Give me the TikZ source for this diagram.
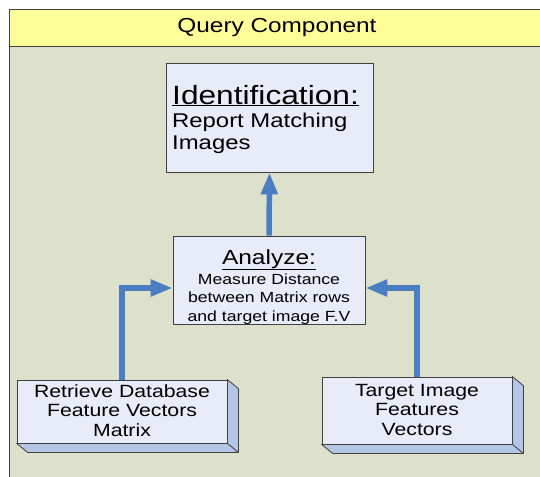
\documentclass[tikz,border=0pt]{standalone}
\usepackage{graphicx}
\usepackage{fontspec}
\setmainfont{Liberation Sans}
\usetikzlibrary{arrows.meta}
\newcommand\xwide[1]{\scalebox{1.2}[1]{#1}}
\definecolor{hdr}{HTML}{FFFF99}
\definecolor{bodyc}{HTML}{DDE1CB}
\definecolor{boxfill}{HTML}{E7ECF8}
\definecolor{depth}{HTML}{B3C6E6}
\definecolor{arrblue}{HTML}{4A7EC0}
\definecolor{framec}{HTML}{404040}
\tikzset{
  box/.style={draw=framec, fill=boxfill, line width=0.8pt, inner sep=0pt},
  txt/.style={inner sep=0pt, anchor=base},
  depthface/.style={draw=framec, fill=depth, line width=0.8pt, line join=round},
  arr/.style={draw=arrblue, line width=5.5pt, -{Triangle[width=16pt,length=22pt]}},
}
\begin{document}
\begin{tikzpicture}[x=1pt,y=-1pt]
\useasboundingbox (0,0) rectangle (540,476);
% frame
\fill[bodyc] (9,46) rectangle (560,490);
\fill[hdr] (9,9) rectangle (560,46);
\draw[framec, line width=0.8pt] (560,9) -- (9,9) -- (9,490);
\draw[framec, line width=0.8pt] (9,46) -- (560,46);
\node[inner sep=0pt] (title) at (277,28) {\xwide{\fontsize{20.3}{24}\selectfont Query Component}};
% Identification box
\node[box, minimum width=207pt, minimum height=109pt] (I) at (269.5,117.5) {};
\node[txt, anchor=base west] (It) at (172,104)
  {\xwide{\parbox[t]{162pt}{\raggedright
   {\fontsize{26.4}{30}\selectfont \underline{Identification:}\par}
   \vspace{2.5pt}
   {\fontsize{19.9}{21.5}\selectfont Report Matching\\Images\par}}}};
% Analyze box
\node[box, minimum width=192pt, minimum height=88pt] (A) at (269,280) {};
\node[txt] (At) at (269,264)
  {\xwide{\parbox[t]{154pt}{\centering
   {\fontsize{20.4}{24}\selectfont \underline{Analyze:}\par}
   \vspace{1.5pt}
   {\fontsize{14.7}{18.6}\selectfont Measure Distance\\between Matrix rows\\and target image F.V\par}}}};
% Bottom boxes
\node[box, minimum width=210pt, minimum height=63pt] (L) at (122,411.5) {};
\node[txt] (Lt) at (122,397)
  {\xwide{\parbox[t]{170pt}{\centering\fontsize{17.7}{19.5}\selectfont Retrieve Database\\Feature Vectors\\Matrix\par}}};
\node[box, minimum width=190pt, minimum height=67pt] (R) at (417,410.5) {};
\node[txt] (Rt) at (417,396)
  {\xwide{\parbox[t]{154pt}{\centering\fontsize{17.7}{19.5}\selectfont Target Image\\Features\\Vectors\par}}};
\foreach \n in {L,R}{
  \draw[depthface] (\n.north east) -- ([shift={(11pt,-9pt)}]\n.north east)
    -- ([shift={(11pt,-9pt)}]\n.south east) -- ([shift={(11pt,-9pt)}]\n.south west)
    -- (\n.south west) -- (\n.south east) -- cycle;
  \draw[framec, line width=0.8pt] (\n.south east) -- ([shift={(11pt,-9pt)}]\n.south east);
}
% connectors
\coordinate (lc) at (122,288);
\coordinate (rc) at (417,288);
\draw[arr] (A.north) -- (I.south);
\draw[arr] (L.north) -- (lc) -- (lc -| A.west);
\draw[arr] (R.north) -- (rc) -- (rc -| A.east);
\end{tikzpicture}
\end{document}
